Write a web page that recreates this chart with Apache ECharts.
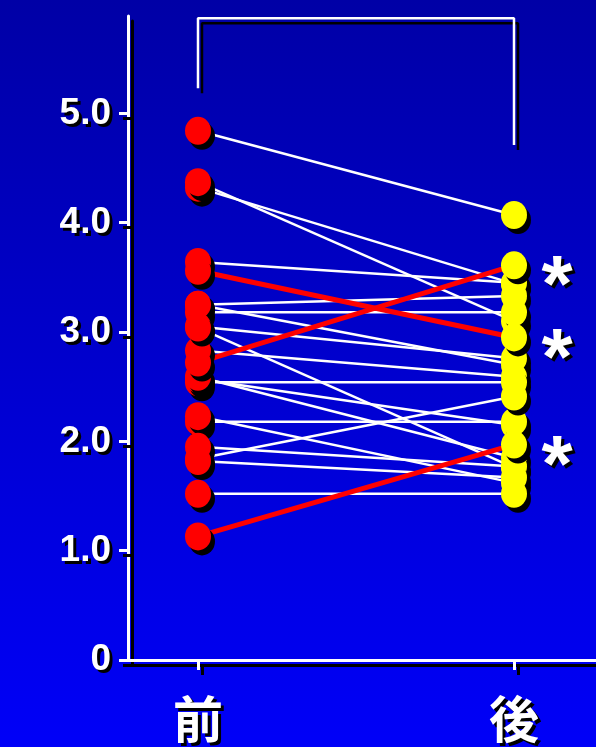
<!DOCTYPE html>
<html>
<head>
<meta charset="utf-8">
<title>前後比較</title>
<script src="https://cdn.jsdelivr.net/npm/echarts@6/dist/echarts.min.js"></script>
<style>
  html, body { margin: 0; padding: 0; }
  #chart { width: 596px; height: 747px; }
</style>
</head>
<body>
<div id="chart"></div>
<script>
// Paired measurements for each subject: value before and after
const categories = ['前', '後'];
const before = [4.84, 4.32, 4.37, 3.64, 3.25, 3.18, 3.25, 3.05, 2.83, 3.04, 2.54,
                2.57, 2.59, 2.18, 2.23, 1.84, 1.95, 1.82, 1.52, 3.56, 2.72, 1.13];
const after  = [4.07, 3.44, 3.10, 3.45, 3.33, 3.18, 2.70, 2.76, 2.59, 1.76, 2.54,
                2.15, 1.85, 2.18, 1.62, 2.41, 1.77, 1.67, 1.52, 2.95, 3.61, 1.97];
// Subjects drawn in red and marked with an asterisk
const highlighted = [false, false, false, false, false, false, false, false, false, false, false,
                     false, false, false, false, false, false, false, false, true, true, true];
const yTicks = [0, 1, 2, 3, 4, 5];
// Comparison bracket above the two groups: [category index, value]
const bracket = [[0, 5.23], [0, 5.87], [1, 5.87], [1, 4.71]];

const FONT = '"Liberation Sans", Arial, sans-serif';
const CJK = '"Noto Sans CJK JP", "Noto Sans CJK SC", sans-serif';
const shadow = { shadowColor: '#000', shadowBlur: 0, shadowOffsetX: 4, shadowOffsetY: 5 };
const textShadow = { textShadowColor: '#000', textShadowBlur: 0.5, textShadowOffsetX: 3, textShadowOffsetY: 3 };

const chart = echarts.init(document.getElementById('chart'), null, { renderer: 'canvas' });

const series = [];

// Connecting lines: white first, highlighted red ones on top
before.forEach((b, i) => {
  if (highlighted[i]) return;
  series.push({
    type: 'line', data: [[0, b], [1, after[i]]], symbol: 'none', silent: true,
    lineStyle: { color: '#fff', width: 2.5 }, z: 2
  });
});
before.forEach((b, i) => {
  if (!highlighted[i]) return;
  series.push({
    type: 'line', data: [[0, b], [1, after[i]]], symbol: 'none', silent: true,
    lineStyle: { color: '#ff0000', width: 5 }, z: 3
  });
});

// Before (red) and after (yellow) points
series.push({
  type: 'scatter', data: before.map(v => [0, v]), symbol: 'circle', symbolSize: [26, 28],
  itemStyle: Object.assign({ color: '#ff0000', opacity: 1 }, shadow), z: 5, silent: true
});
series.push({
  type: 'scatter', data: after.map(v => [1, v]), symbol: 'circle', symbolSize: [26, 28],
  itemStyle: Object.assign({ color: '#ffff00', opacity: 1 }, shadow), z: 5, silent: true
});

// Asterisks next to the highlighted subjects' after values
series.push({
  type: 'scatter', silent: true, z: 6,
  data: after.filter((v, i) => highlighted[i]).map(v => [1, v]),
  symbolSize: 0,
  itemStyle: { opacity: 1 },
  label: Object.assign({
    show: true, position: 'inside', formatter: '*', offset: [43, 24],
    color: '#fff', opacity: 1, fontSize: 80, fontWeight: 'bold', fontFamily: FONT
  }, textShadow)
});

// Bracket
series.push({
  type: 'line', data: bracket, symbol: 'none', silent: true, z: 1,
  lineStyle: Object.assign({ color: '#fff', width: 2.5 }, shadow)
});

chart.setOption({
  animation: false,
  backgroundColor: {
    type: 'linear', x: 0, y: 0, x2: 0, y2: 1,
    colorStops: [{ offset: 0, color: '#0000a6' }, { offset: 1, color: '#0000f8' }]
  },
  grid: { left: 128, right: 0, top: 16, bottom: 87, containLabel: false },
  xAxis: {
    type: 'value', min: -0.2215, max: 1.2595,
    splitLine: { show: false },
    axisLine: { show: true, lineStyle: Object.assign({ color: '#fff', width: 3 }, shadow) },
    axisTick: {
      show: true, customValues: [0, 1], length: 10, inside: false,
      lineStyle: Object.assign({ color: '#fff', width: 3 }, shadow)
    },
    axisLabel: Object.assign({
      show: true, customValues: [0, 1], margin: 34,
      formatter: v => categories[Math.round(v)] || '',
      color: '#fff', fontSize: 50, fontWeight: 'bold', fontFamily: CJK
    }, textShadow)
  },
  yAxis: {
    type: 'value', min: 0, max: 5.89,
    splitLine: { show: false },
    axisLine: { show: true, onZero: false, lineStyle: Object.assign({ color: '#fff', width: 3 }, shadow) },
    axisTick: {
      show: true, customValues: yTicks, length: 9, inside: false,
      lineStyle: Object.assign({ color: '#fff', width: 3 }, shadow)
    },
    axisLabel: Object.assign({
      show: true, customValues: yTicks, margin: 17,
      formatter: v => (v === 0 ? '0' : v.toFixed(1)),
      color: '#fff', fontSize: 37, fontWeight: 'bold', fontFamily: FONT
    }, textShadow)
  },
  series: series
});
</script>
</body>
</html>
